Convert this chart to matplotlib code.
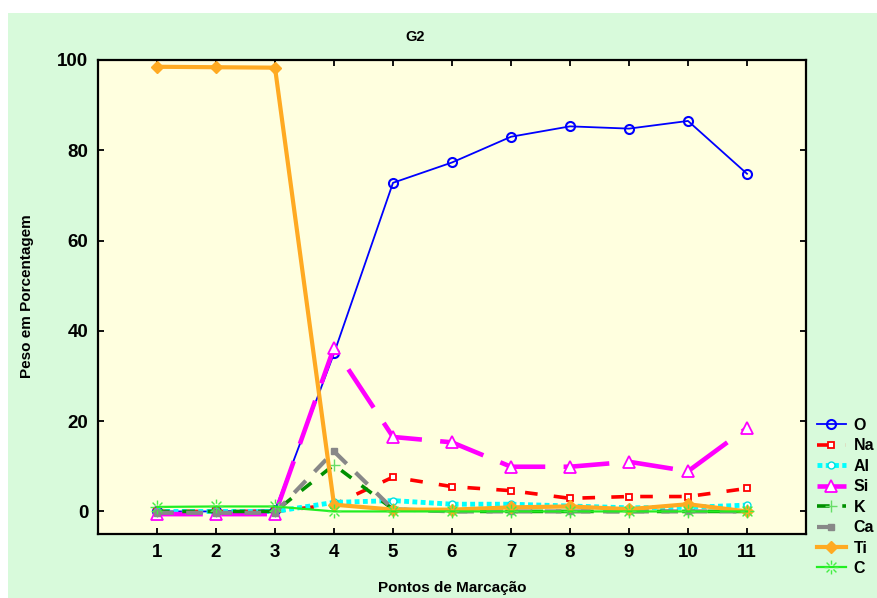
import matplotlib
matplotlib.use("Agg")
import matplotlib.pyplot as plt
from matplotlib.path import Path
from matplotlib.patches import Rectangle
import numpy as np

plt.rcParams['font.family'] = ['Liberation Sans', 'DejaVu Sans']
plt.rcParams['font.weight'] = 'bold'

pontos = [1, 2, 3, 4, 5, 6, 7, 8, 9, 10, 11]

O  = [0.0, 0.0, 0.3, 35.0, 72.8, 77.3, 83.0, 85.3, 84.8, 86.5, 74.8]
Na = [0.0, 0.0, 0.0, 1.5, 7.6, 5.5, 4.6, 2.9, 3.3, 3.3, 5.1]
Al = [0.0, 0.0, 0.0, 2.0, 2.4, 1.6, 1.6, 1.2, 0.8, 0.9, 1.4]
Si = [-0.6, -0.6, -0.6, 36.3, 16.5, 15.3, 9.9, 9.9, 11.0, 8.9, 18.5]
K  = [0.0, 0.0, 0.0, 10.3, 0.5, 0.0, 0.0, 0.0, 0.0, 0.0, 0.0]
Ca = [-0.3, -0.3, -0.3, 13.3, 0.5, 0.0, 0.0, 0.0, 0.0, 0.0, 0.0]
Ti = [98.5, 98.4, 98.3, 1.5, 0.4, 0.4, 0.9, 1.1, 0.5, 1.6, 0.0]
C  = [1.0, 1.1, 1.1, 0.0, 0.0, 0.0, 0.0, 0.0, 0.0, 0.0, 0.0]

y_ticks = [0, 20, 40, 60, 80, 100]

# sparkle marker: eight short rays with an open centre
verts, codes = [], []
for a in np.linspace(0, 2 * np.pi, 8, endpoint=False):
    verts += [(0.4 * np.cos(a), 0.4 * np.sin(a)), (np.cos(a), np.sin(a))]
    codes += [Path.MOVETO, Path.LINETO]
sparkle = Path(verts, codes)

fig = plt.figure(figsize=(8.78, 5.98), dpi=100, facecolor='white')
fig.patches.append(Rectangle((8 / 878, 0), 870 / 878, 585 / 598,
                             transform=fig.transFigure, facecolor='#d8fadb',
                             edgecolor='none', zorder=-10))

ax = fig.add_axes([98 / 878, 1 - 534 / 598, 708 / 878, 474 / 598])
ax.set_facecolor('#ffffdf')

series = [
    ('O', O, dict(color='#0000ff', lw=1.3, ls='-', marker='o', ms=6.5,
                  mfc='none', mec='#0000ff', mew=1.5)),
    ('Na', Na, dict(color='#ff0000', lw=2.6, dashes=(3.5, 4.5), marker='s', ms=4.5,
                    mfc='white', mec='#ff0000', mew=1.3)),
    ('Al', Al, dict(color='#00ffff', lw=3.5, dashes=(1.0, 0.7), marker='o', ms=5,
                    mfc='white', mec='#00e0e0', mew=1.0)),
    ('Si', Si, dict(color='#ff00ff', lw=3.3, dashes=(10, 4), marker='^', ms=8,
                    mfc='white', mec='#ff00ff', mew=1.3)),
    ('K', K, dict(color='#009000', lw=2.6, dashes=(3.5, 3.5), marker='+', ms=9,
                  mec='#66dd66', mew=1.0)),
    ('Ca', Ca, dict(color='#888888', lw=3.0, dashes=(4, 3), marker='s', ms=5,
                    mfc='#888888', mec='#888888')),
    ('Ti', Ti, dict(color='#ffaa22', lw=3.0, ls='-', marker='D', ms=6.5,
                    mfc='#ffaa22', mec='#ffaa22')),
    ('C', C, dict(color='#22ee22', lw=1.6, ls='-', marker=sparkle, ms=10,
                  mfc='none', mec='#44ee44', mew=1.0)),
]

for name, vals, style in series:
    ax.plot(pontos, vals, label=name, clip_on=False, **style)

ax.set_xlim(0, 12)
ax.set_ylim(-5, 100)
ax.set_xticks(pontos)
ax.set_yticks(y_ticks)
ax.tick_params(direction='in', length=4, width=1.3, top=True, right=True,
               labelsize=13.5, pad=7)
for lab in ax.get_xticklabels() + ax.get_yticklabels():
    lab.set_fontweight('bold')
for sp in ax.spines.values():
    sp.set_linewidth(1.6)

fig.text(415 / 878, 1 - 37 / 598, 'G2', ha='center', va='center',
         fontsize=10.5, fontweight='bold')
fig.text(452 / 878, 1 - 588 / 598, 'Pontos de Marcação', ha='center',
         va='center', fontsize=11, fontweight='bold')
fig.text(27 / 878, 1 - 296 / 598, 'Peso em Porcentagem', ha='center',
         va='center', rotation=90, fontsize=11, fontweight='bold')

leg = fig.legend(loc='upper left', bbox_to_anchor=(817 / 878, 1 - 418 / 598),
                 frameon=False, fontsize=11.5, handlelength=1.8,
                 handletextpad=0.5, labelspacing=0.34, borderaxespad=0,
                 borderpad=0)
for t in leg.get_texts():
    t.set_fontweight('bold')

fig.savefig('out.png', dpi=100, facecolor=fig.get_facecolor())
